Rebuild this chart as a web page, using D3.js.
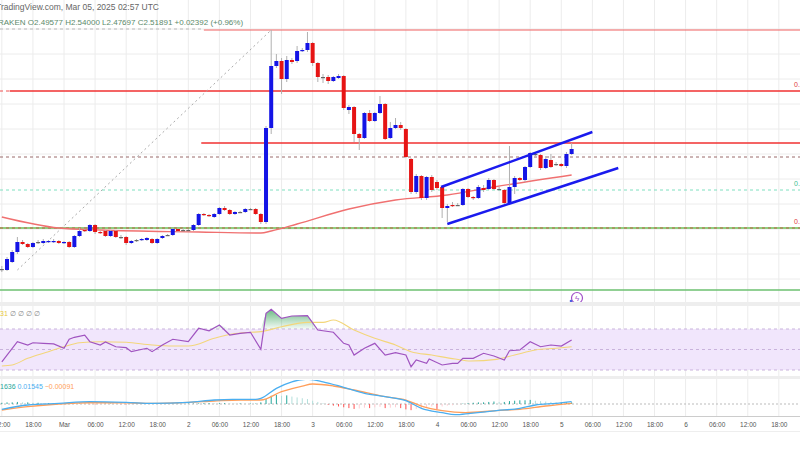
<!DOCTYPE html>
<html><head><meta charset="utf-8">
<script src="https://cdn.jsdelivr.net/npm/d3@7"></script>
<style>body{margin:0;background:#fff;overflow:hidden}svg{display:block;font-family:"Liberation Sans",Arial,sans-serif}</style>
</head><body><svg id="c" width="800" height="450"></svg>
<script>
// ---- data (hourly candles, index 0 = Feb 28 12:00) ----
const opens  = [1.925,1.92,1.96,2.01,2.06,2.05,2.035,2.06,2.055,2.06,2.06,2.065,2.055,2.06,2.035,2.09,2.12,2.115,2.145,2.11,2.115,2.09,2.115,2.085,2.085,2.055,2.07,2.07,2.07,2.075,2.055,2.08,2.095,2.095,2.125,2.12,2.12,2.12,2.145,2.2,2.195,2.185,2.2,2.23,2.22,2.2,2.21,2.21,2.225,2.225,2.2,2.16,2.63,2.94,2.965,2.875,2.97,2.965,3.015,3.02,3.055,2.955,2.885,2.885,2.865,2.88,2.89,2.72,2.735,2.6,2.58,2.705,2.665,2.705,2.75,2.58,2.63,2.645,2.625,2.475,2.31,2.39,2.28,2.385,2.36,2.335,2.23,2.245,2.245,2.245,2.325,2.285,2.28,2.33,2.325,2.37,2.325,2.32,2.255,2.335,2.38,2.37,2.435,2.5,2.495,2.43,2.47,2.45,2.45,2.44,2.5];
const closes = [1.925,1.975,2.01,2.06,2.05,2.035,2.055,2.06,2.065,2.065,2.065,2.055,2.06,2.035,2.09,2.115,2.115,2.145,2.11,2.105,2.09,2.115,2.085,2.085,2.055,2.065,2.07,2.075,2.08,2.055,2.075,2.09,2.095,2.125,2.115,2.12,2.12,2.145,2.2,2.195,2.19,2.2,2.23,2.22,2.2,2.21,2.21,2.225,2.225,2.2,2.16,2.63,2.94,2.965,2.875,2.97,2.96,3.015,3.02,3.055,2.955,2.885,2.885,2.865,2.885,2.89,2.73,2.735,2.6,2.58,2.705,2.665,2.705,2.75,2.575,2.63,2.645,2.63,2.485,2.31,2.39,2.28,2.385,2.32,2.33,2.23,2.24,2.24,2.245,2.325,2.285,2.28,2.335,2.32,2.37,2.325,2.325,2.255,2.335,2.38,2.37,2.435,2.505,2.5,2.43,2.475,2.435,2.45,2.44,2.5,2.525];
const highs  = [1.94,1.985,2.02,2.085,2.07,2.055,2.06,2.07,2.075,2.07,2.075,2.07,2.065,2.065,2.095,2.13,2.125,2.15,2.15,2.115,2.12,2.12,2.12,2.095,2.09,2.07,2.075,2.08,2.085,2.08,2.08,2.095,2.1,2.13,2.13,2.13,2.125,2.15,2.205,2.205,2.2,2.205,2.235,2.24,2.225,2.215,2.215,2.23,2.23,2.23,2.205,2.64,3.12,3.0,2.98,2.99,2.98,3.04,3.03,3.11,3.06,2.96,2.9,2.895,2.89,2.9,2.895,2.745,2.74,2.605,2.71,2.72,2.71,2.79,2.755,2.66,2.68,2.66,2.63,2.48,2.4,2.395,2.39,2.395,2.37,2.34,2.25,2.26,2.255,2.33,2.33,2.29,2.345,2.345,2.38,2.375,2.335,2.325,2.54,2.39,2.385,2.44,2.51,2.51,2.5,2.49,2.5,2.46,2.455,2.51,2.555];
const lows   = [1.91,1.915,1.955,2.0,2.045,2.03,2.03,2.05,2.05,2.055,2.055,2.05,2.05,2.03,2.03,2.085,2.11,2.11,2.1,2.1,2.085,2.085,2.08,2.075,2.045,2.05,2.06,2.065,2.065,2.05,2.05,2.075,2.09,2.09,2.11,2.115,2.115,2.115,2.14,2.19,2.185,2.18,2.195,2.215,2.195,2.195,2.205,2.205,2.22,2.195,2.15,2.15,2.6,2.93,2.8,2.86,2.95,2.955,3.01,3.01,2.94,2.86,2.855,2.85,2.86,2.875,2.72,2.7,2.56,2.52,2.575,2.66,2.66,2.7,2.57,2.575,2.625,2.62,2.48,2.3,2.3,2.27,2.27,2.31,2.32,2.18,2.16,2.235,2.24,2.24,2.28,2.27,2.275,2.31,2.32,2.32,2.32,2.25,2.25,2.3,2.365,2.36,2.43,2.49,2.42,2.425,2.43,2.44,2.435,2.43,2.495];
// moving average (main pane) [candle index, value]
const maIdx = [0,11,19,38,50,52,57,67,76,86,95,110];
const maVal = [2.185,2.13,2.12,2.11,2.105,2.115,2.15,2.225,2.27,2.295,2.335,2.395];
// RSI
const rsiIdx = [0,3,5,6,8,10,12,13,14,16,17,19,20,22,24,25,28,29,31,33,36,38,40,42,44,46,48,50,51,52,54,56,59,61,64,66,67,68,70,72,74,76,78,79,80,82,82.5,85,87,88,89,91,93,95,97,98,100,102,104,106,108,110];
const rsiVal = [38,57.6,54.4,56.6,56,55.4,51.2,60,61.9,64.1,57.6,54.4,57.3,52.7,51.8,47.9,51.2,47.9,54.4,60,57.6,70.7,68.3,73.9,64.1,65.8,66.8,50.2,85.3,89.2,80.4,82.7,83,69,66.8,56,54.4,44.6,51.2,56,44.6,46.9,44.6,33.2,39.8,36.5,40.7,34.9,36.5,36.5,41.4,41.4,46.3,43.7,39.8,48.8,49.5,57.6,52.7,54.4,53.4,59.3];
const rsiMaIdx = [0,2,5,9,12,15,19,24,29,33,36,41,44.5,48,50,54,59,62,64,68,72,76,79,83,87.5,90.5,95.5,99,103,107,110];
const rsiMaVal = [33.9,34.9,41.4,47.9,52.7,56.6,57.6,57,54.4,53.4,53.4,60.9,65.1,66.8,67.4,72.2,76.5,76.5,78.8,69,60.9,54.4,47.9,44.6,40.7,38.8,40.4,44.6,49.5,51.2,52.7];
// MACD
const macdIdx = [0,5,11,17,24,29,36,41,44.5,49,50,53,56,59,62,66,70,74,78,81,85,87.5,90.5,95.5,100,103,107,110];
const macdVal = [-0.013,-0.0024,0.0016,0.0057,0.004,0.0016,0.004,0.0097,0.0113,0.0113,0.0138,0.038,0.054,0.06,0.054,0.0405,0.026,0.0177,0.008,-0.0105,-0.021,-0.026,-0.0226,-0.016,-0.0105,-0.0024,0.0016,0.0057];
const sigIdx = [0,5,11,17,24,29,36,41,46,50,54,58,60,64,68,74,78,81,85,89.5,95.5,100,105,110];
const sigVal = [-0.0146,-0.0065,0,0.003,0.003,0.0016,0.004,0.0073,0.0097,0.0097,0.03,0.0437,0.0486,0.0437,0.034,0.0177,0.0097,-0.0049,-0.016,-0.021,-0.016,-0.013,-0.0049,0.0016];
const hist = [0.003,0.004,0.004,0.005,0.004,0.004,0.003,0.003,0.002,0.002,0.002,0.001,0.001,0.001,0.001,0.001,0.0005,-0.0005,-0.001,-0.0005,0.0005,0.001,0.0005,-0.0005,-0.001,-0.0005,0.0005,0.001,0.001,0.0005,0.001,0.001,0.0005,0.001,0.001,0.0005,0.001,0.001,0.0015,0.002,0.002,0.0015,0.002,0.002,0.0015,0.001,0.0015,0.001,0.001,0.001,0.004,0.012,0.02,0.022,0.02,0.021,0.018,0.016,0.014,0.012,0.008,0.005,0.002,-0.002,-0.004,-0.006,-0.008,-0.01,-0.012,-0.011,-0.009,-0.01,-0.008,-0.007,-0.01,-0.009,-0.008,-0.01,-0.013,-0.015,-0.012,-0.01,-0.008,-0.006,-0.012,-0.006,-0.004,-0.003,-0.001,0.001,0.002,0.003,0.004,0.004,0.005,0.006,0.005,0.005,0.007,0.008,0.009,0.009,0.01,0.008,0.007,0.006,0.005,0.004,0.004,0.004,0.004];
// levels
const redLevels = [3.12,2.815,2.555];
const tickLabels = ["12:00","18:00","Mar","06:00","12:00","18:00","2","06:00","12:00","18:00","3","06:00","12:00","18:00","4","06:00","12:00","18:00","5","06:00","12:00","18:00","6","06:00","12:00","18:00"];
const channelUpper = [[84.8,2.335],[114,2.61]];
const channelLower = [[86,2.15],[119,2.43]];

// ---- scales ----
const svg = d3.select("#c");
const t0 = new Date(Date.UTC(2025,1,28,12));
const tAt = i => new Date(t0.getTime() + i*3600e3);
const x = d3.scaleTime().domain([new Date(Date.UTC(2025,2,1,0)), new Date(Date.UTC(2025,2,6,0))]).range([64, 64+120*5.18]);
const xi = i => x(tAt(i));
const y = d3.scaleLinear().domain([1.77,3.27]).range([300,0]);
const yR = d3.scaleLinear().domain([30,70]).range([370,329]);
const yM = d3.scaleLinear().domain([0,0.06]).range([404,379.3]);
const ticks = d3.range(tickLabels.length).map(k => new Date(Date.UTC(2025,1,28,12+6*k)));

const defs = svg.append("defs");
[["cm",0,0,800,302],["cr",0,307,800,69],["cmacd",0,380,800,36]].forEach(([id,a,b,w,h])=>defs.append("clipPath").attr("id",id).append("rect").attr("x",a).attr("y",b).attr("width",w).attr("height",h));
const g1 = defs.append("linearGradient").attr("id","gg").attr("x1",0).attr("x2",0).attr("y1",0).attr("y2",1);
g1.append("stop").attr("offset","0%").attr("stop-color","#2e9e4f").attr("stop-opacity",0.7);
g1.append("stop").attr("offset","100%").attr("stop-color","#2e9e4f").attr("stop-opacity",0.05);

// grid
const grid = svg.append("g").attr("stroke","#ececec").attr("stroke-width",1);
ticks.forEach(t=>grid.append("line").attr("x1",x(t)).attr("x2",x(t)).attr("y1",0).attr("y2",416));
d3.range(1.875,3.2,0.125).forEach(p=>grid.append("line").attr("x1",0).attr("x2",800).attr("y1",y(p)).attr("y2",y(p)));

// main pane
const m = svg.append("g").attr("clip-path","url(#cm)");
m.append("line").attr("x1",0).attr("x2",xi(39)).attr("y1",y(3.125)).attr("y2",y(3.125)).attr("stroke","#bbb").attr("stroke-dasharray","3,3");
m.append("line").attr("x1",0).attr("x2",xi(1.5)).attr("y1",y(2.815)).attr("y2",y(2.815)).attr("stroke","#f05050").attr("stroke-dasharray","3,3");
const starts=[39,1.5,38.5];
redLevels.forEach((p,k)=>m.append("line").attr("x1",xi(starts[k])).attr("x2",800).attr("y1",y(p)).attr("y2",y(p)).attr("stroke",k==0?"#f06060":"#f03030").attr("stroke-width",k==0?1:1.6));
m.append("line").attr("x1",0).attr("x2",800).attr("y1",y(2.485)).attr("y2",y(2.485)).attr("stroke","#9a6a6a").attr("stroke-dasharray","3,3");
m.append("line").attr("x1",0).attr("x2",800).attr("y1",y(2.32)).attr("y2",y(2.32)).attr("stroke","#7fe0c0").attr("stroke-dasharray","3,3");
m.append("line").attr("x1",0).attr("x2",800).attr("y1",y(2.13)).attr("y2",y(2.13)).attr("stroke","#8fcf7f").attr("stroke-width",2);
m.append("line").attr("x1",0).attr("x2",800).attr("y1",y(2.13)).attr("y2",y(2.13)).attr("stroke","#c0604a").attr("stroke-dasharray","3,3");
m.append("line").attr("x1",0).attr("x2",800).attr("y1",y(1.82)).attr("y2",y(1.82)).attr("stroke","#6cc070").attr("stroke-width",1.6);
m.append("line").attr("x1",xi(3)).attr("y1",y(1.92)).attr("x2",xi(52)).attr("y2",y(3.12)).attr("stroke","#aaa").attr("stroke-dasharray","2,3");
m.append("path").datum(maIdx.map((v,k)=>[v,maVal[k]])).attr("fill","none").attr("stroke","#f07070").attr("stroke-width",1.4)
 .attr("d",d3.line().x(d=>xi(d[0])).y(d=>y(d[1])).curve(d3.curveMonotoneX));
const cg = m.append("g");
closes.forEach((c,i)=>{
  const o=opens[i], up=c>=o, col=up?"#1414e6":"#e61414";
  cg.append("line").attr("x1",xi(i)).attr("x2",xi(i)).attr("y1",y(highs[i])).attr("y2",y(lows[i])).attr("stroke","#b0b0b0");
  const h=Math.max(1.2,Math.abs(y(o)-y(c)));
  cg.append("rect").attr("x",xi(i)-2).attr("width",4).attr("y",Math.min(y(o),y(c))).attr("height",h).attr("fill",Math.abs(c-o)<0.001?"#666":col);
});
[channelUpper,channelLower].forEach(ch=>m.append("line").attr("x1",xi(ch[0][0])).attr("y1",y(ch[0][1])).attr("x2",xi(ch[1][0])).attr("y2",y(ch[1][1])).attr("stroke","#1a1aee").attr("stroke-width",2.4));
[[2.835,"#e04040"],[2.34,"#40c090"],[2.15,"#e04040"]].forEach(([p,c])=>svg.append("text").attr("x",794).attr("y",y(p)).attr("font-size",7).attr("fill",c).text("0."));
svg.append("text").attr("x",-4).attr("y",10).attr("font-size",8.5).attr("fill","#666").text("TradingView.com, Mar 05, 2025 02:57 UTC");
svg.append("text").attr("x",-2).attr("y",25).attr("font-size",8).attr("fill","#5b8a6b").text("RAKEN  O2.49577  H2.54000  L2.47697  C2.51891  +0.02392 (+0.96%)");
svg.append("circle").attr("cx",577).attr("cy",298).attr("r",5.5).attr("fill","#fff").attr("stroke","#a050c8").attr("stroke-width",1.2);
svg.append("text").attr("x",577).attr("y",301).attr("text-anchor","middle").attr("font-size",8).attr("fill","#a050c8").text("ϟ");
svg.append("circle").attr("cx",571).attr("cy",301).attr("r",1.3).attr("fill","#5060e0");

svg.append("rect").attr("x",0).attr("y",302).attr("width",800).attr("height",4).attr("fill","#eeeeee");
svg.append("rect").attr("x",0).attr("y",376).attr("width",800).attr("height",3).attr("fill","#eeeeee");

const r = svg.append("g").attr("clip-path","url(#cr)");
r.append("rect").attr("x",0).attr("width",800).attr("y",yR(70)).attr("height",yR(30)-yR(70)).attr("fill","#f1e6fc");
[70,50,30].forEach(v=>r.append("line").attr("x1",0).attr("x2",800).attr("y1",yR(v)).attr("y2",yR(v)).attr("stroke","#c9b3dc").attr("stroke-dasharray","3,3"));
const rsiPts = rsiIdx.map((v,k)=>[v,rsiVal[k]]);
r.append("path").datum(rsiPts).attr("fill","url(#gg)").attr("d",d3.area().x(d=>xi(d[0])).y0(yR(70)).y1(d=>yR(Math.max(70,d[1]))));
r.append("path").datum(rsiMaIdx.map((v,k)=>[v,rsiMaVal[k]])).attr("fill","none").attr("stroke","#f3d67a").attr("stroke-width",1.1).attr("d",d3.line().x(d=>xi(d[0])).y(d=>yR(d[1])).curve(d3.curveMonotoneX));
r.append("path").datum(rsiPts).attr("fill","none").attr("stroke","#a054c0").attr("stroke-width",1.2).attr("d",d3.line().x(d=>xi(d[0])).y(d=>yR(d[1])));
svg.append("text").attr("x",0).attr("y",316).attr("font-size",7).attr("fill","#e8c840").text("31");
svg.append("text").attr("x",10).attr("y",316).attr("font-size",7).attr("fill","#888").text("∅ ∅ ∅ ∅");

const mc = svg.append("g").attr("clip-path","url(#cmacd)");
mc.append("line").attr("x1",0).attr("x2",800).attr("y1",yM(0)).attr("y2",yM(0)).attr("stroke","#bbb").attr("stroke-dasharray","2,2");
hist.forEach((h,i)=>{
  const prev = i>0?hist[i-1]:h;
  const col = h>=0 ? (h>=prev?"#26a69a":"#b2dfdb") : (h<=prev?"#ff5252":"#ffcdd2");
  mc.append("line").attr("x1",xi(i)).attr("x2",xi(i)).attr("y1",yM(0)).attr("y2",yM(h)).attr("stroke",col).attr("stroke-width",1);
});
mc.append("path").datum(sigIdx.map((v,k)=>[v,sigVal[k]])).attr("fill","none").attr("stroke","#ff9e5a").attr("stroke-width",1.3).attr("d",d3.line().x(d=>xi(d[0])).y(d=>yM(d[1])).curve(d3.curveMonotoneX));
mc.append("path").datum(macdIdx.map((v,k)=>[v,macdVal[k]])).attr("fill","none").attr("stroke","#4aaef0").attr("stroke-width",1.3).attr("d",d3.line().x(d=>xi(d[0])).y(d=>yM(d[1])).curve(d3.curveMonotoneX));
const ml = svg.append("text").attr("x",0).attr("y",389).attr("font-size",7);
ml.append("tspan").attr("fill","#26a69a").text("1636 ");
ml.append("tspan").attr("fill","#4aaef0").text("0.01545 ");
ml.append("tspan").attr("fill","#ff9e5a").text("−0.00091");

svg.append("line").attr("x1",0).attr("x2",800).attr("y1",416.5).attr("y2",416.5).attr("stroke","#ccc");
const ax = svg.append("g").attr("transform","translate(0,416)")
  .call(d3.axisBottom(x).tickValues(ticks).tickSize(0).tickPadding(6).tickFormat((d,k)=>tickLabels[k]));
ax.select(".domain").remove();
ax.selectAll("text").attr("font-size",6.5).attr("fill","#555").attr("font-family","Liberation Sans, Arial");
svg.append("line").attr("x1",0).attr("x2",800).attr("y1",431.5).attr("y2",431.5).attr("stroke","#eee");
</script></body></html>
